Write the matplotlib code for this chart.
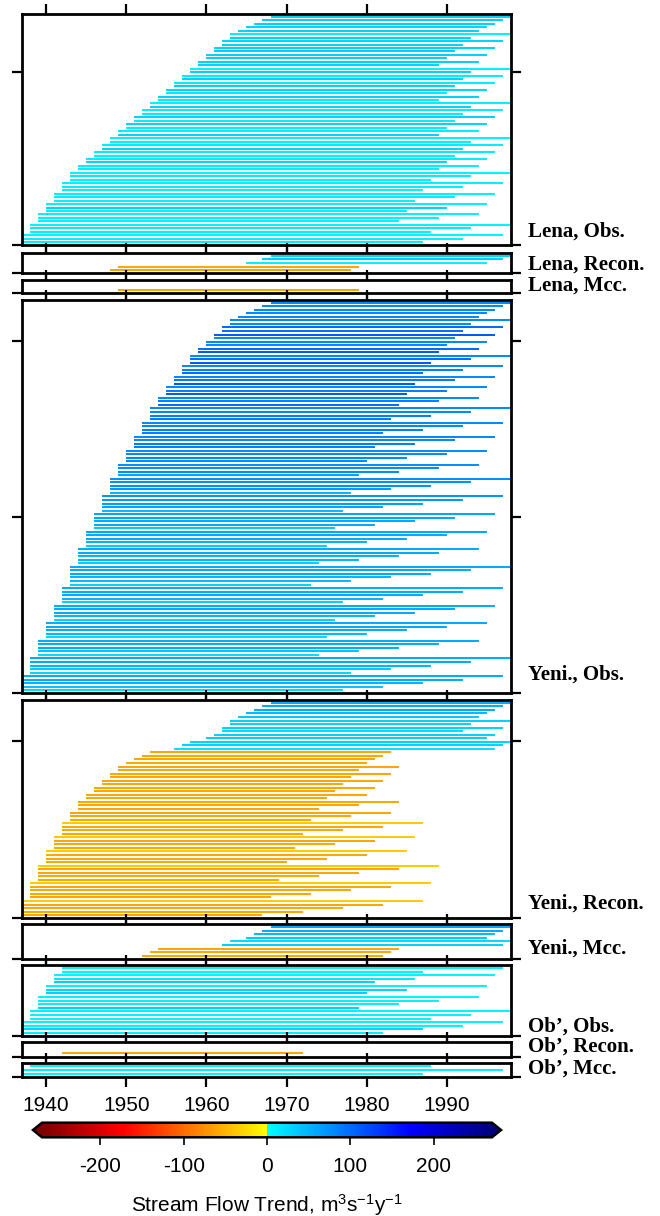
import numpy as np
import matplotlib
matplotlib.use("Agg")
import matplotlib.pyplot as plt
from matplotlib.colors import LinearSegmentedColormap, Normalize
from matplotlib.cm import ScalarMappable

plt.rcParams['font.family'] = ['Liberation Sans', 'DejaVu Sans']
plt.rcParams['axes.unicode_minus'] = False

# Each row: trend window from start year to end year, coloured by trend (m3/s/y).
# Rows are listed top to bottom. None = empty row.

lena_obs_start = [1968, 1967, 1966, 1965, 1964,
                  1963, 1963, 1962, 1962, 1961, 1961, 1960, 1960, 1959, 1959,
                  1958, 1958, 1957, 1957, 1956, 1956, 1955, 1955, 1954, 1954,
                  1953, 1953, 1952, 1952, 1951, 1951, 1950, 1950, 1949, 1949,
                  1948, 1948, 1947, 1947, 1946, 1946, 1945, 1945, 1944, 1944,
                  1943, 1943, 1943, 1942, 1942, 1942, 1941, 1941, 1941,
                  1940, 1940, 1940, 1939, 1939, 1939, 1938, 1938, 1938,
                  1937, 1937, 1937]
lena_obs_end = [1998, 1997, 1996, 1995, 1994,
                1998, 1993, 1997, 1992, 1996, 1991, 1995, 1990, 1994, 1989,
                1998, 1993, 1997, 1992, 1996, 1991, 1995, 1990, 1994, 1989,
                1998, 1993, 1997, 1992, 1996, 1991, 1995, 1990, 1994, 1989,
                1998, 1993, 1997, 1992, 1996, 1991, 1995, 1990, 1994, 1989,
                1998, 1993, 1988, 1997, 1992, 1987, 1996, 1991, 1986,
                1995, 1990, 1985, 1994, 1989, 1984, 1998, 1993, 1988,
                1997, 1992, 1987]
lena_obs_trend = [30, 32, 30, 28, 30,
                  10, 30, 28, 30, 30, 32, 30, 30, 32, 28,
                  10, 30, 12, 30, 12, 30, 28, 12, 30, 12,
                  10, 30, 12, 12, 30, 12, 28, 12, 12, 30,
                  10, 12, 12, 28, 12, 12, 12, 28, 12, 12,
                  8, 12, 10, 10, 12, 10, 10, 12, 10,
                  10, 28, 10, 10, 10, 10, 8, 12, 10,
                  8, 10, 12]

lena_recon_start = [1968, 1967, 1965, 1949, 1948]
lena_recon_end = [1998, 1997, 1995, 1979, 1978]
lena_recon_trend = [30, 32, 10, -60, -62]

lena_mcc_start = [None, None, 1949]
lena_mcc_end = [None, None, 1979]
lena_mcc_trend = [None, None, -60]

yeni_obs_start = [1968, 1967, 1966, 1965, 1964,
                  1963, 1963, 1962, 1962, 1961, 1961, 1960, 1960, 1959, 1959,
                  1958, 1958, 1958, 1957, 1957, 1957, 1956, 1956, 1956,
                  1955, 1955, 1955, 1954, 1954, 1954,
                  1953, 1953, 1953, 1953, 1952, 1952, 1952, 1952,
                  1951, 1951, 1951, 1951, 1950, 1950, 1950, 1950,
                  1949, 1949, 1949, 1949,
                  1948, 1948, 1948, 1948, 1948, 1947, 1947, 1947, 1947, 1947,
                  1946, 1946, 1946, 1946, 1946, 1945, 1945, 1945, 1945, 1945,
                  1944, 1944, 1944, 1944, 1944,
                  1943, 1943, 1943, 1943, 1943, 1943,
                  1942, 1942, 1942, 1942, 1942, 1941, 1941, 1941, 1941, 1941,
                  1940, 1940, 1940, 1940, 1940, 1939, 1939, 1939, 1939, 1939,
                  1938, 1938, 1938, 1938, 1938, 1937, 1937, 1937, 1937, 1937]
yeni_obs_end = [1998, 1997, 1996, 1995, 1994,
                1998, 1993, 1997, 1992, 1996, 1991, 1995, 1990, 1994, 1989,
                1998, 1993, 1988, 1997, 1992, 1987, 1996, 1991, 1986,
                1995, 1990, 1985, 1994, 1989, 1984,
                1998, 1993, 1988, 1983, 1997, 1992, 1987, 1982,
                1996, 1991, 1986, 1981, 1995, 1990, 1985, 1980,
                1994, 1989, 1984, 1979,
                1998, 1993, 1988, 1983, 1978, 1997, 1992, 1987, 1982, 1977,
                1996, 1991, 1986, 1981, 1976, 1995, 1990, 1985, 1980, 1975,
                1994, 1989, 1984, 1979, 1974,
                1998, 1993, 1988, 1983, 1978, 1973,
                1997, 1992, 1987, 1982, 1977, 1996, 1991, 1986, 1981, 1976,
                1995, 1990, 1985, 1980, 1975, 1994, 1989, 1984, 1979, 1974,
                1998, 1993, 1988, 1983, 1978, 1997, 1992, 1987, 1982, 1977]
yeni_obs_trend = [80, 80, 80, 80, 80,
                  80, 80, 100, 95, 110, 80, 80, 80, 100, 110,
                  80, 95, 110, 80, 85, 95, 80, 90, 110,
                  80, 85, 110, 80, 85, 95,
                  80, 80, 85, 90, 80, 80, 85, 85,
                  80, 80, 85, 85, 78, 80, 80, 80,
                  75, 78, 80, 60,
                  75, 75, 72, 68, 50, 70, 68, 65, 60, 45,
                  60, 58, 55, 55, 40, 58, 55, 55, 52, 35,
                  55, 55, 52, 50, 32,
                  55, 55, 55, 50, 45, 30,
                  55, 55, 55, 50, 30, 55, 55, 55, 50, 28,
                  55, 55, 55, 45, 25, 55, 55, 55, 40, 22,
                  55, 55, 50, 35, 28, 55, 55, 50, 40, 25]

yeni_recon_start = [1968, 1967, 1966, 1965, 1964,
                    1963, 1963, 1962, 1962, 1961, 1960, 1958, 1957, 1956,
                    1953, 1952, 1951, 1950,
                    1949, 1949, 1948, 1948, 1947, 1947, 1946, 1946, 1945, 1945,
                    1944, 1944, 1944, 1943, 1943, 1943,
                    1942, 1942, 1942, 1942, 1941, 1941, 1941, 1941,
                    1940, 1940, 1940, 1940,
                    1939, 1939, 1939, 1939, 1939, 1938, 1938, 1938, 1938, 1938,
                    1937, 1937, 1937, 1937, 1937]
yeni_recon_end = [1998, 1997, 1996, 1995, 1994,
                  1998, 1993, 1997, 1992, 1996, 1995, 1998, 1997, 1996,
                  1983, 1982, 1981, 1980,
                  1984, 1979, 1983, 1978, 1982, 1977, 1981, 1976, 1980, 1975,
                  1984, 1979, 1974, 1983, 1978, 1973,
                  1987, 1982, 1977, 1972, 1986, 1981, 1976, 1971,
                  1985, 1980, 1975, 1970,
                  1989, 1984, 1979, 1974, 1969, 1988, 1983, 1978, 1973, 1968,
                  1987, 1982, 1977, 1972, 1967]
yeni_recon_trend = [55, 55, 55, 45, 35,
                    30, 28, 30, 25, 30, 30, 28, 28, 20,
                    -60, -60, -60, -60,
                    -60, -60, -60, -60, -60, -60, -60, -60, -60, -60,
                    -60, -60, -60, -60, -60, -60,
                    -35, -60, -60, -60, -35, -60, -60, -60,
                    -35, -60, -60, -60,
                    -35, -60, -60, -60, -60, -35, -60, -60, -60, -60,
                    -35, -60, -60, -60, -60]

yeni_mcc_start = [1968, 1967, 1966, 1965, 1963, 1962, 1954, 1953, 1952]
yeni_mcc_end = [1998, 1997, 1996, 1995, 1998, 1997, 1984, 1983, 1982]
yeni_mcc_trend = [60, 55, 45, 35, 25, 30, -60, -60, -60]

ob_obs_start = [1942, 1942, 1941, 1941, 1941, 1940, 1940, 1940,
                1939, 1939, 1939, 1939, 1938, 1938, 1938,
                1937, 1937, 1937, 1937]
ob_obs_end = [1997, 1987, 1996, 1986, 1981, 1995, 1985, 1980,
              1994, 1989, 1984, 1979, 1998, 1993, 1988,
              1997, 1992, 1987, 1982]
ob_obs_trend = [8, 8, 8, 15, 30, 8, 28, 30,
                8, 8, 10, 30, 8, 8, 10,
                8, 8, 30, 10]

ob_recon_start = [None, None, 1942]
ob_recon_end = [None, None, 1972]
ob_recon_trend = [None, None, -60]

ob_mcc_start = [1938, 1937, 1937]
ob_mcc_end = [1988, 1997, 1987]
ob_mcc_trend = [8, 12, 8]

panel_names = ["Lena, Obs.", "Lena, Recon.", "Lena, Mcc.",
               "Yeni., Obs.", "Yeni., Recon.", "Yeni., Mcc.",
               "Ob\u2019, Obs.", "Ob\u2019, Recon.", "Ob\u2019, Mcc."]
panels = [(lena_obs_start, lena_obs_end, lena_obs_trend),
          (lena_recon_start, lena_recon_end, lena_recon_trend),
          (lena_mcc_start, lena_mcc_end, lena_mcc_trend),
          (yeni_obs_start, yeni_obs_end, yeni_obs_trend),
          (yeni_recon_start, yeni_recon_end, yeni_recon_trend),
          (yeni_mcc_start, yeni_mcc_end, yeni_mcc_trend),
          (ob_obs_start, ob_obs_end, ob_obs_trend),
          (ob_recon_start, ob_recon_end, ob_recon_trend),
          (ob_mcc_start, ob_mcc_end, ob_mcc_trend)]

year_ticks = [1940, 1950, 1960, 1970, 1980, 1990]
cbar_ticks = [-200, -100, 0, 100, 200]

# layout in pixels (top, bottom of each panel), label lift above panel bottom
W, H = 660, 1216
tops = [14, 252.7, 280, 300, 700, 924, 965, 1042, 1063]
bots = [245, 273.3, 293.3, 693, 918, 959, 1036, 1056.7, 1076.7]
lifts = [8, 4, 2.6, 13, 9.7, 5.7, 4.7, 5, 2.7]
x_left, x_right = 22, 511

cmap = LinearSegmentedColormap.from_list("trend", [
    (0.0, "#7f0000"), (0.18, "#ff0000"), (0.5, "#ffff00"),
    (0.5, "#00ffff"), (0.82, "#0000ff"), (1.0, "#00007f")])
norm = Normalize(-270, 270)

fig = plt.figure(figsize=(W / 100, H / 100), dpi=100)

for k, ((st, en, tr), name) in enumerate(zip(panels, panel_names)):
    top, bot = tops[k], bots[k]
    ax = fig.add_axes([x_left / W, 1 - bot / H, (x_right - x_left) / W, (bot - top) / H])
    n = len(st)
    ys = [n - 1 - i for i in range(n) if tr[i] is not None]
    xs0 = [st[i] for i in range(n) if tr[i] is not None]
    xs1 = [en[i] for i in range(n) if tr[i] is not None]
    cs = [cmap(norm(tr[i])) for i in range(n) if tr[i] is not None]
    ax.hlines(ys, xs0, xs1, colors=cs, linewidth=1.45, zorder=1)
    ax.set_xlim(1937, 1998)
    ax.set_ylim(-0.8, n - 0.2)
    ax.set_yticks(np.arange(-0.8, n - 0.2, 50))
    ax.set_xticks(year_ticks)
    last = k == len(panels) - 1
    ax.tick_params(axis='both', direction='out', length=7, width=1.6,
                   top=True, right=True, labelleft=False,
                   labelbottom=last, labelsize=15, pad=7)
    for s in ax.spines.values():
        s.set_linewidth(2.0)
    fig.text(528 / W, 1 - (bot - lifts[k]) / H, name, ha='left', va='baseline',
             family='Liberation Serif', weight='bold', fontsize=15)

# colour bar
cax = fig.add_axes([33 / W, 1 - 1137.3 / H, 468 / W, 14.6 / H])
cb = fig.colorbar(ScalarMappable(norm=norm, cmap=cmap), cax=cax,
                  orientation='horizontal', extend='both', extendfrac=0.02,
                  ticks=cbar_ticks)
cb.outline.set_linewidth(1.8)
cb.ax.tick_params(direction='out', length=6, width=1.2, labelsize=15, pad=8)
cb.set_label(r"Stream Flow Trend, m$\mathregular{^3}$s$\mathregular{^{-1}}$y$\mathregular{^{-1}}$",
             fontsize=15, labelpad=12)

fig.savefig("out.png", dpi=100)
